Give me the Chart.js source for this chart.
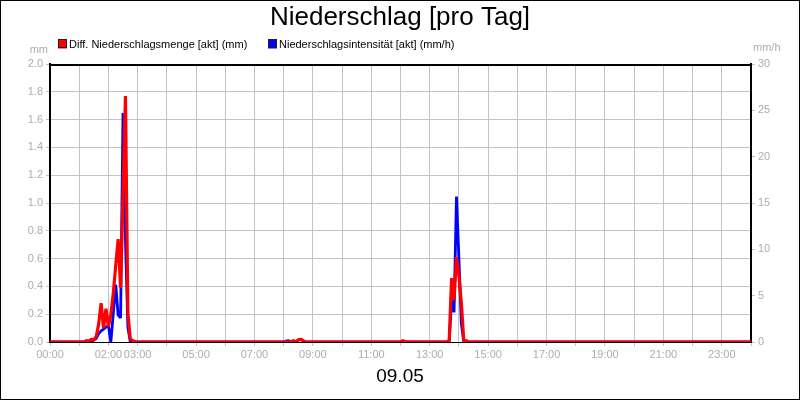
<!DOCTYPE html>
<html>
<head>
<meta charset="utf-8">
<title>Niederschlag [pro Tag]</title>
<script src="https://cdn.jsdelivr.net/npm/chart.js@4.4.1/dist/chart.umd.min.js"></script>
<style>
    html, body { margin: 0; padding: 0; background: #fff; }
    canvas { display: block; }
</style>
</head>
<body>
<canvas id="myChart" width="800" height="400"></canvas>
<script>
// Time stamps (5 min steps around the rain events)
const times = [
    '00:00',
    '01:10', '01:15', '01:20', '01:25', '01:30', '01:35', '01:40', '01:45', '01:50', '01:55',
    '02:00', '02:05', '02:10', '02:15', '02:20', '02:25', '02:30', '02:35', '02:40', '02:45', '02:50', '02:55',
    '08:00', '08:05', '08:10', '08:15', '08:20', '08:25', '08:30', '08:35', '08:40', '08:45',
    '12:00', '12:05', '12:10',
    '13:35', '13:40', '13:45', '13:50', '13:55', '14:00', '14:05', '14:10', '14:15', '14:20',
    '24:00'
];

// Diff. Niederschlagsmenge [akt] (mm) - left axis
const rainAmount = [
    0,
    0, 0.01, 0.005, 0.02, 0.015, 0.04, 0.13, 0.28, 0.10, 0.24,
    0.11, 0.20, 0.35, 0.55, 0.74, 0.39, 1.05, 1.77, 0.21, 0.02, 0.01, 0,
    0, 0, 0, 0, 0.01, 0, 0.015, 0.02, 0.01, 0,
    0, 0.01, 0,
    0, 0.01, 0.46, 0.30, 0.61, 0.48, 0.28, 0.01, 0.01, 0,
    0
];

// Niederschlagsintensität [akt] (mm/h) - right axis
const rainRate = [
    0,
    0, 0, 0.1, 0.1, 0.2, 0.4, 0.9, 1.2, 1.4, 1.6,
    1.8, 0, 3.1, 6.2, 2.9, 2.6, 24.7, 11.0, 1.6, 0, 0, 0,
    0, 0.1, 0.15, 0, 0.1, 0, 0.2, 0.3, 0.1, 0,
    0, 0.1, 0,
    0, 0, 4.5, 3.2, 15.7, 9.0, 2.0, 0, 0, 0,
    0
];

// Labelled hours on the time axis
const xTickLabels = ['00:00', '02:00', '03:00', '05:00', '07:00', '09:00', '11:00',
    '13:00', '15:00', '17:00', '19:00', '21:00', '23:00'];

const dayLabel = '09.05';
const FONT = "'Liberation Sans', Arial, sans-serif";
const GREY = '#adadad';
const GRID = '#c3c3c3';

function toHours(t) {
    const parts = t.split(':');
    return parseInt(parts[0], 10) + parseInt(parts[1], 10) / 60;
}

const labelHours = xTickLabels.map(toHours);

// Title, legend, units, frame
const decorations = {
    id: 'decorations',
    beforeDraw(chart) {
        const c = chart.ctx;
        c.save();
        c.fillStyle = '#fff';
        c.fillRect(0, 0, chart.width, chart.height);
        c.restore();
    },
    beforeDatasetsDraw(chart) {
        const c = chart.ctx;
        const a = chart.chartArea;
        c.save();
        c.strokeStyle = '#000';
        c.lineWidth = 2;
        c.beginPath();
        c.moveTo(a.left, a.top + 1);
        c.lineTo(a.right, a.top + 1);
        c.stroke();
        c.restore();
    },
    afterDraw(chart) {
        const c = chart.ctx;
        c.save();
        // outer border
        c.strokeStyle = '#000';
        c.lineWidth = 1;
        c.strokeRect(0.5, 0.5, chart.width - 1, chart.height - 1);

        // title
        c.fillStyle = '#000';
        c.textAlign = 'center';
        c.textBaseline = 'middle';
        c.font = '26px ' + FONT;
        c.fillText('Niederschlag [pro Tag]', 400, 18);

        // day label
        c.font = '19px ' + FONT;
        c.fillText(dayLabel, 400, 377);

        // legend
        const legendX = [58, 268];
        c.font = '11px ' + FONT;
        c.textAlign = 'left';
        chart.data.datasets.forEach((ds, i) => {
            c.fillStyle = ds.borderColor;
            c.fillRect(legendX[i], 39.5, 9, 9);
            c.strokeStyle = '#222';
            c.lineWidth = 1;
            c.strokeRect(legendX[i] + 0.5, 39.5, 8, 8);
            c.fillStyle = '#000';
            c.fillText(ds.label, legendX[i] + 11, 44.5);
        });

        // axis units
        c.fillStyle = GREY;
        c.textAlign = 'right';
        c.fillText('mm', 48, 50);
        c.textAlign = 'left';
        c.fillText('mm/h', 753, 48);
        c.restore();
    }
};

const ctx = document.getElementById('myChart').getContext('2d');
const myChart = new Chart(ctx, {
    type: 'line',
    data: {
        datasets: [{
            label: 'Diff. Niederschlagsmenge [akt] (mm)',
            data: times.map((t, i) => ({ x: toHours(t), y: rainAmount[i] })),
            borderColor: '#ff0000',
            borderWidth: 3.2,
            yAxisID: 'y',
        }, {
            label: 'Niederschlagsintensität [akt] (mm/h)',
            data: times.map((t, i) => ({ x: toHours(t), y: rainRate[i] })),
            borderColor: '#0000ff',
            borderWidth: 2.8,
            yAxisID: 'y1',
        }]
    },
    options: {
        responsive: false,
        animation: false,
        devicePixelRatio: 1,
        layout: { padding: { top: 64, left: 0, right: 0, bottom: 0 } },
        elements: {
            point: { radius: 0, hoverRadius: 0 },
            line: { tension: 0, fill: false, borderJoinStyle: 'bevel' },
        },
        plugins: {
            legend: { display: false },
            title: { display: false },
            tooltip: { enabled: false },
        },
        scales: {
            x: {
                type: 'linear',
                min: 0,
                max: 24,
                afterFit(scale) { scale.height = 58; },
                ticks: {
                    stepSize: 1,
                    autoSkip: false,
                    maxRotation: 0,
                    padding: 2,
                    color: GREY,
                    font: { family: FONT, size: 11 },
                    callback(value) {
                        const i = labelHours.indexOf(value);
                        return i >= 0 ? xTickLabels[i] : '';
                    },
                },
                grid: { color: GRID, tickLength: 4 },
                border: { color: '#000', width: 1 },
            },
            y: {
                position: 'left',
                min: 0,
                max: 2,
                afterFit(scale) { scale.width = 50; },
                ticks: {
                    stepSize: 0.2,
                    padding: 3,
                    color: GREY,
                    font: { family: FONT, size: 11 },
                    callback: (value) => value.toFixed(1),
                },
                grid: { color: GRID, tickLength: 4 },
                border: { color: '#000', width: 2 },
            },
            y1: {
                position: 'right',
                min: 0,
                max: 30,
                afterFit(scale) { scale.width = 49; },
                ticks: {
                    stepSize: 5,
                    padding: 3,
                    color: GREY,
                    font: { family: FONT, size: 11 },
                },
                grid: { drawOnChartArea: false, color: GRID, tickLength: 4 },
                border: { color: '#000', width: 2 },
            },
        },
    },
    plugins: [decorations],
});
</script>
</body>
</html>
